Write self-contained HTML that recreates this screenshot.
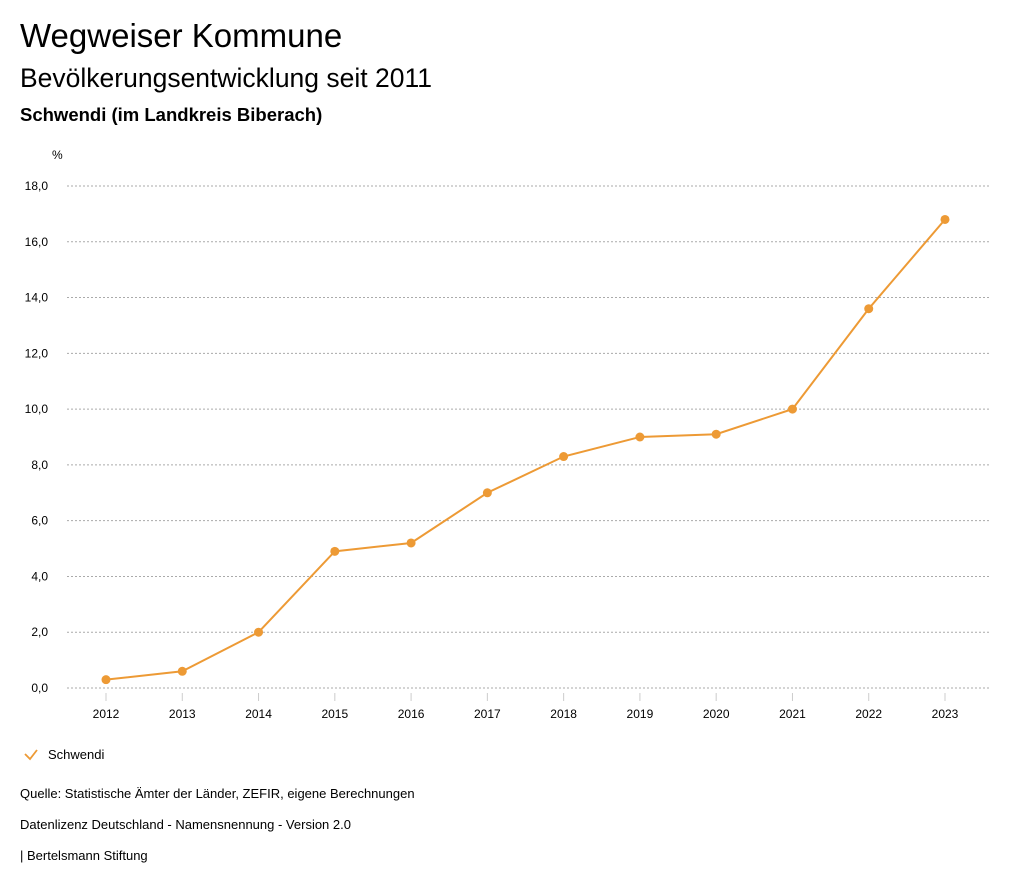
<!DOCTYPE html>
<html><head><meta charset="utf-8"><style>
body{margin:0;width:1024px;height:888px;background:#fff;font-family:"Liberation Sans",sans-serif;color:#000;overflow:hidden}
.t{position:absolute;left:20px;white-space:nowrap}
</style></head><body>
<div class="t" style="top:17px;font-size:33px">Wegweiser Kommune</div>
<div class="t" style="top:63px;font-size:26.5px">Bevölkerungsentwicklung seit 2011</div>
<div class="t" style="top:104px;font-size:18.5px;font-weight:bold">Schwendi (im Landkreis Biberach)</div>
<svg id="chart" width="1024" height="888" style="position:absolute;left:0;top:0" font-family="Liberation Sans, sans-serif"></svg>
<div class="t" style="top:786px;font-size:13px">Quelle: Statistische Ämter der Länder, ZEFIR, eigene Berechnungen</div>
<div class="t" style="top:817px;font-size:13px">Datenlizenz Deutschland - Namensnennung - Version 2.0</div>
<div class="t" style="top:848px;font-size:13px">| Bertelsmann Stiftung</div>
<script>
const years=["2012","2013","2014","2015","2016","2017","2018","2019","2020","2021","2022","2023"];
const values=[0.3,0.6,2.0,4.9,5.2,7.0,8.3,9.0,9.1,10.0,13.6,16.8];
const yTicks=[0,2,4,6,8,10,12,14,16,18];
const NS="http://www.w3.org/2000/svg";
const svg=document.getElementById('chart');
const x=i=>106+i*(945-106)/(years.length-1);
const y=v=>688-v*(688-186)/18;
function mk(t,a,p){const e=document.createElementNS(NS,t);for(const k in a)e.setAttribute(k,a[k]);(p||svg).appendChild(e);return e;}
const u=mk('text',{x:52,y:159,'font-size':12});u.textContent='%';


yTicks.forEach(v=>{
 const l=mk('line',{x1:67,x2:990,y1:y(v),y2:y(v),stroke:'#aaa','stroke-dasharray':'2,2'});
 
 
 const t=mk('text',{x:48,y:y(v)+4,'font-size':12,'text-anchor':'end'});t.textContent=v.toFixed(1).replace('.',',');
 
 
});
years.forEach((yr,i)=>{
 const l=mk('line',{x1:x(i),x2:x(i),y1:693,y2:701,stroke:'#ccc'});
 
 
 const t=mk('text',{x:x(i),y:718,'font-size':12,'text-anchor':'middle'});t.textContent=yr;
 
 
});
const line=mk('polyline',{points:values.map((v,i)=>x(i)+','+y(v)).join(' '),fill:'none',stroke:'#ed9a35','stroke-width':2});


values.forEach((v,i)=>{
 const c=mk('circle',{cx:x(i),cy:y(v),r:4.5,fill:'#ed9a35'});
 
 
});
const lg=mk('g',{});


mk('polyline',{points:'25,754 30,759 37,750',fill:'none',stroke:'#ed9a35','stroke-width':1.8},lg);
const lt=mk('text',{x:48,y:759,'font-size':13},lg);lt.textContent='Schwendi';
</script>
</body></html>
